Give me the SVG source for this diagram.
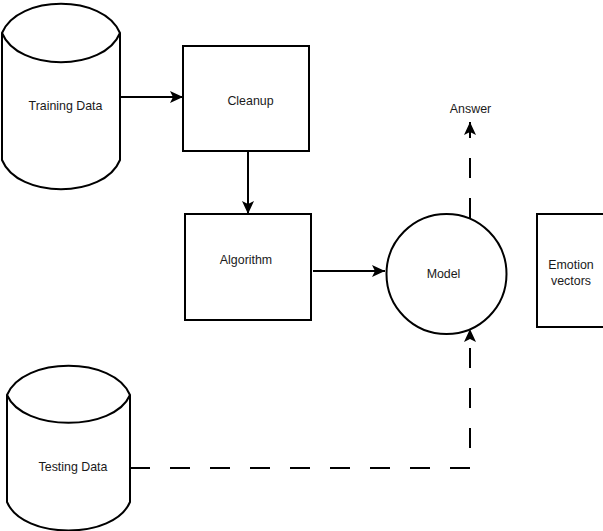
<svg xmlns="http://www.w3.org/2000/svg" width="603" height="531" viewBox="0 0 603 531">
<style>
.shape{fill:#fff;stroke:#000;stroke-width:2}
.lbl{font-family:"Liberation Sans",Arial,sans-serif;font-size:12.4px;fill:#1a1a1a;text-anchor:middle}
.edge{fill:none;stroke:#000;stroke-width:2}
.dash{stroke-dasharray:20 20}
</style>
<defs>
<marker id="arr" markerUnits="userSpaceOnUse" markerWidth="14" markerHeight="14" viewBox="0 0 14 12" refX="13" refY="6" orient="auto">
<path d="M0,0 L13,6 L0,12 L3,6 z" fill="#000"/>
</marker>
</defs>
<rect width="603" height="531" fill="#fff"/>
<g id="training-data">
<path class="shape" d="M2,33 C18,-6 104,-6 120,33 L120,160 C104,199 18,199 2,160 Z"/>
<path class="shape" fill="none" d="M2,33 C18,72 104,72 120,33"/>
<text class="lbl" x="65.5" y="110">Training Data</text>
</g>
<g id="testing-data">
<path class="shape" d="M7,395 C23,356 114,356 130,395 L130,502 C114,540 23,540 7,502 Z"/>
<path class="shape" fill="none" d="M7,395 C23,432 114,432 130,395"/>
<text class="lbl" x="73" y="471">Testing Data</text>
</g>
<g id="cleanup">
<rect class="shape" x="183" y="46" width="126" height="105"/>
<text class="lbl" x="250.5" y="105">Cleanup</text>
</g>
<g id="algorithm">
<rect class="shape" x="185" y="214" width="126" height="106"/>
<text class="lbl" x="246" y="264">Algorithm</text>
</g>
<g id="model">
<circle class="shape" cx="446.5" cy="274" r="60"/>
<text class="lbl" x="443.5" y="278">Model</text>
</g>
<g id="answer">
<text class="lbl" x="470.5" y="113">Answer</text>
</g>
<g id="emotion-vectors">
<rect class="shape" x="537" y="214" width="72" height="113"/>
<text class="lbl" x="571" y="269">Emotion</text>
<text class="lbl" x="571" y="285">vectors</text>
</g>
<g id="connectors">
<path class="edge" d="M120,97 L183,97" marker-end="url(#arr)"/>
<path class="edge" d="M248,151 L248,214" marker-end="url(#arr)"/>
<path class="edge" d="M313,271 L385,271" marker-end="url(#arr)"/>
<path class="edge dash" d="M130,468 L470,468 L470,329" marker-end="url(#arr)"/>
<path class="edge dash" d="M470,218 L470,122" marker-end="url(#arr)"/>
</g>
</svg>
